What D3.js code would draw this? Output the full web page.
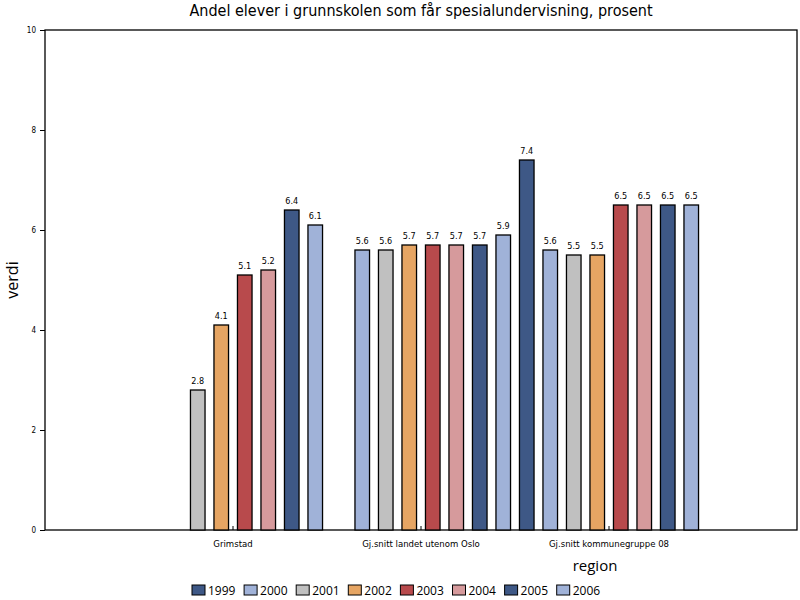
<!DOCTYPE html>
<html><head><meta charset="utf-8">
<script src="https://cdn.jsdelivr.net/npm/d3@7"></script>
<style>body{margin:0;background:#fff}</style>
</head><body>
<svg id="c" width="800" height="600"></svg>
<script>
const title = "Andel elever i grunnskolen som får spesialundervisning, prosent";
const regions = ["Grimstad", "Gj.snitt landet utenom Oslo", "Gj.snitt kommunegruppe 08"];
const years = ["1999","2000","2001","2002","2003","2004","2005","2006"];
const grimstad = [null, null, 2.8, 4.1, 5.1, 5.2, 6.4, 6.1];
const landet = [null, 5.6, 5.6, 5.7, 5.7, 5.7, 5.7, 5.9];
const kommunegruppe = [7.4, 5.6, 5.5, 5.5, 6.5, 6.5, 6.5, 6.5];
const yTicks = [0, 2, 4, 6, 8, 10];
const colors = ["#3e5886","#a0b2d8","#c0c0c0","#e6a563","#b84a4c","#d69a9c","#3e5886","#a0b2d8"];
const seriesByRegion = [grimstad, landet, kommunegruppe];

const svg = d3.select("#c");
const L = 45, R = 797, T = 30, B = 530;
const font = "'DejaVu Sans Condensed', 'DejaVu Sans', sans-serif";

const x0 = d3.scaleBand().domain(regions).range([L, R]).paddingInner(0).paddingOuter(0.5);
const x1 = d3.scaleBand().domain(years).range([0, x0.bandwidth()]).paddingInner(0.38).paddingOuter(0.19);
const y = d3.scaleLinear().domain([0, 10]).range([B, T]);

// frame
svg.append("rect").attr("x", L).attr("y", T).attr("width", R - L).attr("height", B - T)
  .attr("fill", "none").attr("stroke", "#000").attr("stroke-width", 1.3);

// bars
const data = [];
regions.forEach((r, i) => years.forEach((yr, j) => {
  const v = seriesByRegion[i][j];
  if (v !== null) data.push({r, yr, v, j});
}));
const g = svg.append("g");
g.selectAll("rect").data(data).join("rect")
  .attr("x", d => x0(d.r) + x1(d.yr))
  .attr("y", d => y(d.v))
  .attr("width", x1.bandwidth())
  .attr("height", d => y(0) - y(d.v))
  .attr("fill", d => colors[d.j])
  .attr("stroke", "#000").attr("stroke-width", 1.3);
g.selectAll("text").data(data).join("text")
  .attr("x", d => x0(d.r) + x1(d.yr) + x1.bandwidth() / 2)
  .attr("y", d => y(d.v) - 6)
  .attr("text-anchor", "middle")
  .attr("font-family", font).attr("font-size", 9)
  .text(d => d.v.toFixed(1));

// y axis
const ya = svg.append("g").attr("transform", `translate(${L},0)`)
  .call(d3.axisLeft(y).tickValues(yTicks).tickSize(5).tickPadding(4).tickFormat(d3.format("d")));
ya.select(".domain").remove();
ya.selectAll("text").attr("font-family", font).attr("font-size", 8).attr("fill", "#000");
ya.selectAll("line").attr("stroke", "#000");

// x axis
const xa = svg.append("g").attr("transform", `translate(0,${B})`)
  .call(d3.axisBottom(x0).tickSize(-4).tickPadding(10));
xa.select(".domain").remove();
xa.selectAll("text").attr("font-family", font).attr("font-size", 9.5).attr("fill", "#000");
xa.selectAll("line").attr("stroke", "#000");

// title
svg.append("text").attr("x", (L + R) / 2).attr("y", 16).attr("text-anchor", "middle")
  .attr("font-family", font).attr("font-size", 16).text(title);

// axis labels
svg.append("text").attr("transform", `translate(18,${(T + B) / 2}) rotate(-90)`)
  .attr("text-anchor", "middle").attr("font-family", "'Open Sans', sans-serif").attr("font-size", 16).text("verdi");
svg.append("text").attr("x", 595).attr("y", 571).attr("text-anchor", "middle")
  .attr("font-family", "'Open Sans', sans-serif").attr("font-size", 15).text("region");

// legend
const lg = svg.append("g").attr("transform", "translate(192,585)");
const item = lg.selectAll("g").data(years).join("g").attr("transform", (d, i) => `translate(${i * 52.1},0)`);
item.append("rect").attr("width", 13).attr("height", 10).attr("y", 0)
  .attr("fill", (d, i) => colors[i]).attr("stroke", "#000").attr("stroke-width", 1);
item.append("text").attr("x", 16).attr("y", 10).attr("font-family", "'Open Sans', sans-serif").attr("font-size", 12).text(d => d);
</script>
</body></html>
